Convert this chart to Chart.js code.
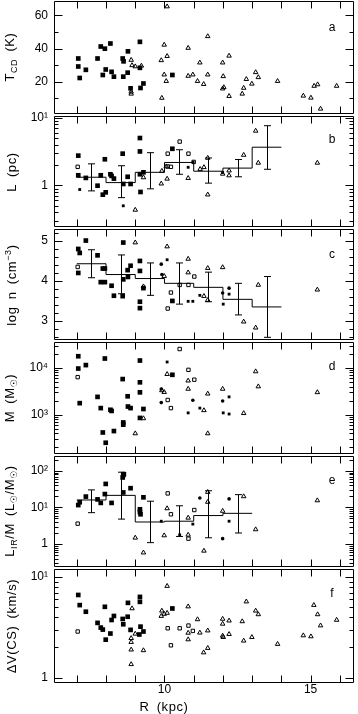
<!DOCTYPE html>
<html><head><meta charset="utf-8">
<script src="https://cdn.jsdelivr.net/npm/chart.js@4.4.1/dist/chart.umd.min.js"></script>
<style>
html,body{margin:0;padding:0;background:#fff;}
body{width:358px;height:714px;position:relative;overflow:hidden;}
canvas{position:absolute;left:0;}
.yt{position:absolute;white-space:nowrap;font:13px "Liberation Sans","DejaVu Sans",sans-serif;letter-spacing:0.6px;word-spacing:3px;transform:translate(-50%,-50%) rotate(-90deg);color:#000;line-height:1;z-index:5;}
.yt sub,.yt sup{font-size:9px;}
.lbl{position:absolute;font:12px "Liberation Sans","DejaVu Sans",sans-serif;transform:translate(-50%,-50%);color:#000;z-index:5;line-height:1;}
.xt{position:absolute;white-space:nowrap;font:13px "Liberation Sans",sans-serif;letter-spacing:0.6px;word-spacing:3px;transform:translate(-50%,-50%);z-index:5;line-height:1;}
</style></head><body>
<div class="yt" style="left:11px;top:57px">T<sub>CD</sub> (K)</div>
<div class="yt" style="left:11px;top:172px">L (pc)</div>
<div class="yt" style="left:11px;top:285px">log n (cm<sup>−3</sup>)</div>
<div class="yt" style="left:11px;top:398px">M (M<sub>☉</sub>)</div>
<div class="yt" style="left:11px;top:511px">L<sub>IR</sub>/M (L<sub>☉</sub>/M<sub>☉</sub>)</div>
<div class="yt" style="left:11px;top:626px">ΔV(CS) (km/s)</div>
<div class="lbl" style="left:332px;top:27px">a</div>
<div class="lbl" style="left:332px;top:139px">b</div>
<div class="lbl" style="left:332px;top:254px">c</div>
<div class="lbl" style="left:332px;top:366px">d</div>
<div class="lbl" style="left:332px;top:480px">e</div>
<div class="lbl" style="left:332px;top:593px">f</div>
<div class="xt" style="left:164px;top:706px">R (kpc)</div>
<script>
// ---------- axis ticks ----------
const rTicks = [7,8,9,10,11,12,13,14,15,16];
const rTickLabels = [10,15];
const tempTickLabels = [20,40,60];
const sizeTickLabels = [1,10];
const densTickLabels = [3,4,5];
const massTickLabels = [1000,10000];
const lumTickLabels = [1,10,100];
const dvTickLabels = [1,10];

// ---------- panel a : T (K) ----------
const tempFilled = [[7.05,34.0],[7.05,29.2],[7.10,22.3],[7.31,27.2],[7.71,34.0],[7.82,41.2],[7.96,39.9],[7.89,24.1],[7.99,27.4],[8.15,43.0],[8.19,26.0],[8.27,23.1],[8.57,34.0],[8.60,32.3],[8.59,23.1],[8.75,38.3],[8.74,25.5],[8.84,16.1],[9.16,44.0],[9.16,28.4],[9.18,16.3],[9.28,19.0],[10.27,24.1]];
const tempTri = [[10.09,65.2],[9.99,42.2],[9.89,32.9],[10.09,35.4],[9.99,24.3],[10.06,20.4],[9.91,10.3],[10.81,40.3],[10.81,23.5],[10.97,24.3],[11.13,20.4],[11.21,31.5],[11.34,18.6],[11.48,47.3],[11.48,24.3],[11.99,31.5],[12.01,23.3],[11.99,15.9],[12.03,16.7],[12.21,35.6],[12.21,11.4],[12.66,12.8],[12.71,16.3],[12.80,21.6],[12.99,18.8],[13.12,25.7],[13.21,22.7],[13.87,20.4],[14.75,11.6],[15.01,10.4],[15.12,17.5],[15.24,18.4],[15.34,3.8],[15.89,17.5],[8.86,33.1],[8.89,29.9],[9.00,29.2],[9.21,29.6],[8.86,14.0],[8.86,12.8]];

// ---------- panel b : L (pc) ----------
const sizeFilled = [[7.05,2.75],[7.05,1.41],[7.31,1.29],[7.71,0.99],[7.82,1.41],[7.96,2.43],[7.89,0.73],[7.99,0.79],[8.15,1.46],[8.19,1.38],[8.27,1.26],[8.57,2.94],[8.59,1.05],[8.74,1.34],[8.84,1.05],[9.16,5.0],[9.16,3.17],[9.16,1.46],[9.18,0.80],[9.28,1.56],[10.27,3.47]];
const sizeSmall = [[7.10,0.87],[8.59,0.50],[10.81,1.85],[10.98,2.2],[11.99,1.55]];
const sizeOpen = [[7.03,1.88],[10.11,2.94],[10.52,4.43],[10.82,2.94],[11.0,2.22],[10.11,1.90],[10.22,1.88]];
const sizeTri = [[9.0,0.435],[9.28,1.31],[9.89,1.06],[9.91,1.63],[10.09,1.25],[10.06,1.9],[10.81,1.28],[11.22,1.74],[11.35,1.85],[11.48,2.54],[11.48,0.73],[11.99,1.48],[12.21,1.65],[12.21,1.40],[12.71,2.81],[13.12,6.38],[13.21,2.15],[15.23,2.15]];
const sizeBinEdges = [7,8,9,10,11,12,13,14];
const sizeBinMean = [1.32,1.10,1.56,2.18,1.62,1.80,3.66];
const sizeBinLo = [0.83,0.66,0.89,1.46,1.08,1.34,1.73];
const sizeBinHi = [2.08,1.95,3.04,3.36,2.54,2.41,7.6];

// ---------- panel c : log n ----------
const densFilled = [[7.05,4.80],[7.10,4.70],[7.05,4.20],[7.31,5.01],[7.71,4.64],[7.89,4.31],[7.96,4.31],[7.82,3.97],[7.96,3.97],[8.19,3.88],[8.27,3.63],[8.57,3.62],[8.59,4.96],[8.59,4.04],[8.74,4.27],[8.75,4.10],[8.84,4.38],[9.16,4.50],[9.16,4.25],[9.16,3.48],[9.16,3.32],[9.28,3.82],[10.27,3.50]];
const densSmall = [[10.09,4.53],[10.81,3.49],[10.97,3.49],[11.21,3.64],[12.01,3.42],[12.21,3.67]];
const densDot = [[9.89,4.42],[9.91,4.16],[11.99,3.70],[12.21,3.82]];
const densOpen = [[7.03,4.35],[10.22,3.71],[10.11,3.31],[10.52,3.90],[10.82,3.90],[11.02,4.11]];
const densTri = [[9.0,4.96],[10.09,4.86],[9.99,4.12],[10.81,4.55],[10.81,4.21],[11.35,3.62],[11.48,4.32],[11.48,3.52],[11.99,4.34],[12.71,2.98],[13.12,2.83],[13.21,3.90],[15.23,3.78],[9.28,3.86]];
const densBinEdges = [7,8,9,10,11,12,13,14];
const densBinMean = [4.43,4.16,4.06,3.94,3.84,3.54,3.35];
const densBinLo = [4.08,3.68,3.64,3.42,3.48,3.15,2.59];
const densBinHi = [4.78,4.65,4.45,4.45,4.22,3.94,4.11];

// ---------- panel d : M ----------
const massFilled = [[7.05,17800],[7.05,9700],[7.10,1760],[7.31,11500],[7.71,2400],[7.82,1380],[7.96,15900],[7.89,415],[7.99,250],[8.15,1270],[8.19,1200],[8.27,445],[8.57,5770],[8.59,680],[8.59,610],[8.74,2470],[8.75,1490],[8.84,1380],[9.16,14400],[9.16,4920],[9.16,3000],[9.16,850],[9.28,1320],[10.27,7130]];
const massSmall = [[10.09,13400],[10.81,1090],[11.21,1380],[12.01,1090],[12.21,2400],[12.21,1030]];
const massDot = [[9.89,3550],[9.89,1810],[10.97,2030],[11.99,1960]];
const massOpen = [[7.03,6350],[10.52,25400],[10.11,2060],[10.22,1380],[10.82,9100],[11.02,5600]];
const massTri = [[9.0,395],[9.28,830],[9.91,3300],[9.99,3030],[10.09,7350],[10.81,5330],[10.81,3550],[11.35,1235],[11.48,2800],[11.48,395],[11.99,3550],[12.71,1070],[13.12,8400],[13.21,4000],[15.23,3000]];

// ---------- panel e : L_IR/M ----------
const lumFilled = [[7.05,11.6],[7.10,13.9],[7.31,19.8],[7.71,16.6],[7.82,13.3],[7.96,23.2],[7.99,44],[8.19,13.3],[8.57,66],[8.59,77],[8.61,81],[8.59,25.7],[8.84,33.6],[9.16,8.9],[9.16,7.5],[9.18,6.5],[9.28,18.9]];
const lumSmall = [[9.89,4.2],[10.97,3.5],[12.21,4.2],[10.52,1.78]];
const lumDot = [[11.21,18.2],[11.99,1.40],[12.21,17.1]];
const lumOpen = [[7.03,3.6],[10.11,24.2],[10.22,6.5],[10.82,1.40],[11.02,8.5]];
const lumTri = [[9.0,1.48],[9.28,0.58],[9.99,1.71],[10.09,9.4],[10.81,5.2],[10.81,1.78],[11.35,0.65],[11.48,26.3],[11.48,14.1],[11.99,8.0],[12.71,20],[13.12,2.5],[15.23,15.5]];
const lumBinEdges = [7,8,9,10,11,12,13];
const lumBinMean = [16.0,21.4,4.0,4.2,6.0,6.9];
const lumBinLo = [7.2,4.8,1.09,1.61,1.48,2.0];
const lumBinHi = [30.2,92,14.8,11.1,28.6,22.4];

// ---------- panel f : dV(CS) ----------
const dvFilled = [[7.05,6.65],[7.10,5.27],[7.31,4.53],[7.71,3.51],[7.82,3.15],[7.89,3.01],[7.96,5.07],[7.99,2.39],[8.15,2.75],[8.19,3.75],[8.27,4.11],[8.57,3.84],[8.59,3.40],[8.75,5.55],[8.74,4.04],[8.84,2.99],[9.16,6.36],[9.16,5.68],[9.18,3.22],[9.14,2.69],[9.28,2.88],[10.27,4.88]];
const dvOpen = [[7.03,2.88],[10.11,3.10],[10.22,2.10],[10.52,3.10],[10.82,3.30],[10.97,2.92]];
const dvTri = [[8.86,1.36],[8.86,1.90],[8.86,2.26],[8.86,2.47],[8.89,4.88],[9.0,2.73],[9.28,1.87],[9.89,4.10],[9.91,4.63],[9.99,4.30],[10.09,8.15],[10.09,4.40],[10.81,5.10],[10.81,2.79],[10.81,2.40],[11.13,3.80],[11.21,2.80],[11.34,1.78],[11.48,1.97],[11.48,2.94],[11.99,3.84],[11.99,3.43],[11.99,2.61],[12.01,2.53],[12.21,3.69],[12.21,2.71],[12.66,3.63],[12.71,2.33],[12.80,5.71],[12.99,2.53],[13.12,4.63],[13.21,4.26],[13.87,2.16],[14.75,2.63],[15.01,2.57],[15.11,5.27],[15.24,4.26],[15.34,3.30],[15.89,3.75]];

// ---------- rendering ----------
Chart.defaults.font.family = '"Liberation Sans","DejaVu Sans",sans-serif';
Chart.defaults.font.size = 12;
Chart.defaults.color = '#000';

const pts = d => d.map(([x,y]) => ({x, y}));
const filled = d => ({data:pts(d), pointStyle:'rect', pointRadius:3.3, backgroundColor:'#000', borderWidth:0, clip:false});
const small = d => ({data:pts(d), pointStyle:'rect', pointRadius:2.0, backgroundColor:'#000', borderWidth:0, clip:false});
const dot = d => ({data:pts(d), pointStyle:'circle', pointRadius:1.8, backgroundColor:'#000', borderWidth:0, clip:false});
const open = d => ({data:pts(d), pointStyle:'rect', pointRadius:2.4, backgroundColor:'rgba(0,0,0,0)', borderColor:'#000', borderWidth:1, clip:false});
const tri = d => ({data:pts(d), pointStyle:'triangle', pointRadius:2.6, backgroundColor:'rgba(0,0,0,0)', borderColor:'#000', borderWidth:1, clip:false});
const step = (edges, mean) => ({type:'line', data: edges.map((x,i) => ({x, y: mean[Math.min(i, mean.length-1)]})), stepped:true, borderColor:'#000', borderWidth:1, pointRadius:0, fill:false, clip:false});
const errs = (edges, lo, hi) => ({x: lo.map((_,i) => (edges[i]+edges[i+1])/2), lo, hi});

function logMinor(min, max){
  const out = [];
  for (let e = Math.floor(Math.log10(min)); e <= Math.ceil(Math.log10(max)); e++)
    for (let k = 2; k <= 9; k++){ const v = k*Math.pow(10,e); if (v > min && v < max) out.push(v); }
  return out;
}
function linMinor(min, max, step, major){
  const out = [];
  for (let v = Math.ceil(min/step)*step; v < max; v += step){
    const r = Math.round(v*1000)/1000;
    if (!major.some(m => Math.abs(m-r) < 1e-6)) out.push(r);
  }
  return out;
}
const supMap = {'0':'⁰','1':'¹','2':'²','3':'³','4':'⁴','5':'⁵','-':'⁻'};
const logLabel = v => { if (Math.abs(v-1) < 1e-9) return '1'; const e = Math.round(Math.log10(v)); return '10' + String(e).split('').map(c => supMap[c]).join(''); };

const panels = [
  {top:0, bottom:115, type:'linear', min:0.8, max:68.4, labels:tempTickLabels, fmt:v=>String(v),
   minor: linMinor(0.8, 68.4, 10, tempTickLabels), major: tempTickLabels,
   datasets:[filled(tempFilled), tri(tempTri)]},
  {top:115, bottom:228, type:'logarithmic', min:0.245, max:10.5, labels:sizeTickLabels, fmt:logLabel,
   minor: logMinor(0.245, 10.5), major: sizeTickLabels,
   datasets:[step(sizeBinEdges,sizeBinMean), filled(sizeFilled), small(sizeSmall), open(sizeOpen), tri(sizeTri)],
   err: errs(sizeBinEdges,sizeBinLo,sizeBinHi)},
  {top:228, bottom:341, type:'linear', min:2.528, max:5.294, labels:densTickLabels, fmt:v=>String(v),
   minor: linMinor(2.528, 5.294, 0.2, densTickLabels), major: densTickLabels,
   datasets:[step(densBinEdges,densBinMean), filled(densFilled), small(densSmall), dot(densDot), open(densOpen), tri(densTri)],
   err: errs(densBinEdges,densBinLo,densBinHi)},
  {top:341, bottom:455, type:'logarithmic', min:145, max:35560, labels:massTickLabels, fmt:logLabel,
   minor: logMinor(145, 35560), major: massTickLabels,
   datasets:[filled(massFilled), small(massSmall), dot(massDot), open(massOpen), tri(massTri)]},
  {top:455, bottom:568, type:'logarithmic', min:0.238, max:252, labels:lumTickLabels, fmt:logLabel,
   minor: logMinor(0.238, 252), major: lumTickLabels,
   datasets:[step(lumBinEdges,lumBinMean), filled(lumFilled), small(lumSmall), dot(lumDot), open(lumOpen), tri(lumTri)],
   err: errs(lumBinEdges,lumBinLo,lumBinHi)},
  {top:568, bottom:682, type:'logarithmic', min:0.907, max:11.99, labels:dvTickLabels, fmt:logLabel,
   minor: logMinor(0.907, 11.99), major: dvTickLabels,
   datasets:[filled(dvFilled), open(dvOpen), tri(dvTri)], last:true}
];

const framePlugin = {
  id:'frame',
  afterDatasetsDraw(chart){
    const p = chart.options.plugins.frame;
    const {ctx, chartArea} = chart;
    const xs = chart.scales.x, ys = chart.scales.y;
    const L = Math.floor(chartArea.left)+0.5, R = Math.floor(chartArea.right)+0.5;
    const T = Math.floor(chartArea.top)+0.5, B = Math.floor(chartArea.bottom)+0.5;
    ctx.save();
    ctx.strokeStyle = '#000'; ctx.lineWidth = 1;
    ctx.beginPath();
    ctx.rect(L, T, R-L, B-T);
    rTicks.forEach(v => { const x = Math.round(xs.getPixelForValue(v))+0.5; ctx.moveTo(x,T); ctx.lineTo(x,T+7); ctx.moveTo(x,B); ctx.lineTo(x,B-7); });
    p.major.forEach(v => { const y = Math.round(ys.getPixelForValue(v))+0.5; if (y < T || y > B) return; ctx.moveTo(L,y); ctx.lineTo(L+8,y); ctx.moveTo(R,y); ctx.lineTo(R-8,y); });
    p.minor.forEach(v => { const y = Math.round(ys.getPixelForValue(v))+0.5; if (y < T || y > B) return; ctx.moveTo(L,y); ctx.lineTo(L+4,y); ctx.moveTo(R,y); ctx.lineTo(R-4,y); });
    ctx.stroke();
    if (p.err){
      ctx.beginPath();
      p.err.x.forEach((xv,i) => {
        const x = Math.round(xs.getPixelForValue(xv))+0.5;
        const y1 = ys.getPixelForValue(p.err.lo[i]), y2 = ys.getPixelForValue(p.err.hi[i]);
        ctx.moveTo(x,y1); ctx.lineTo(x,y2);
        ctx.moveTo(x-3.5,y1); ctx.lineTo(x+3.5,y1);
        ctx.moveTo(x-3.5,y2); ctx.lineTo(x+3.5,y2);
      });
      ctx.stroke();
    }
    ctx.restore();
  }
};

const M = 12, RIGHT = 356, LEFT = 54, XAXIS_H = 32;
panels.forEach(p => {
  const cv = document.createElement('canvas');
  const top = p.top - M;
  const h = p.last ? (714 - top) : (p.bottom - p.top + 2*M);
  cv.width = 358; cv.height = h;
  cv.style.top = top + 'px';
  cv.style.width = '358px'; cv.style.height = h + 'px';
  document.body.appendChild(cv);
  new Chart(cv, {
    type:'scatter',
    data:{datasets:p.datasets},
    plugins:[framePlugin],
    options:{
      responsive:false, animation:false, devicePixelRatio:1, events:[],
      layout:{padding:{left:0, right:358-RIGHT, top:M, bottom:p.last ? 0 : M}},
      plugins:{legend:{display:false}, tooltip:{enabled:false}, frame:{major:p.major, minor:p.minor, err:p.err}},
      scales:{
        x:{type:'linear', min:6.22, max:16.45, display:!!p.last,
           grid:{display:false, drawTicks:false}, border:{display:false},
           ticks:{padding:0, font:{size:12}, callback:v => String(v)},
           afterBuildTicks:s => { s.ticks = rTickLabels.map(v => ({value:v})); },
           afterFit:s => { s.height = p.last ? XAXIS_H : 0; }},
        y:{type:p.type, min:p.min, max:p.max, position:'left',
           grid:{display:false, drawTicks:false}, border:{display:false},
           ticks:{padding:6, font:{size:12}, callback:v => p.fmt(v)},
           afterBuildTicks:s => { s.ticks = p.labels.map(v => ({value:v})); },
           afterFit:s => { s.width = LEFT; }}
      }
    }
  });
});
</script>
</body></html>
